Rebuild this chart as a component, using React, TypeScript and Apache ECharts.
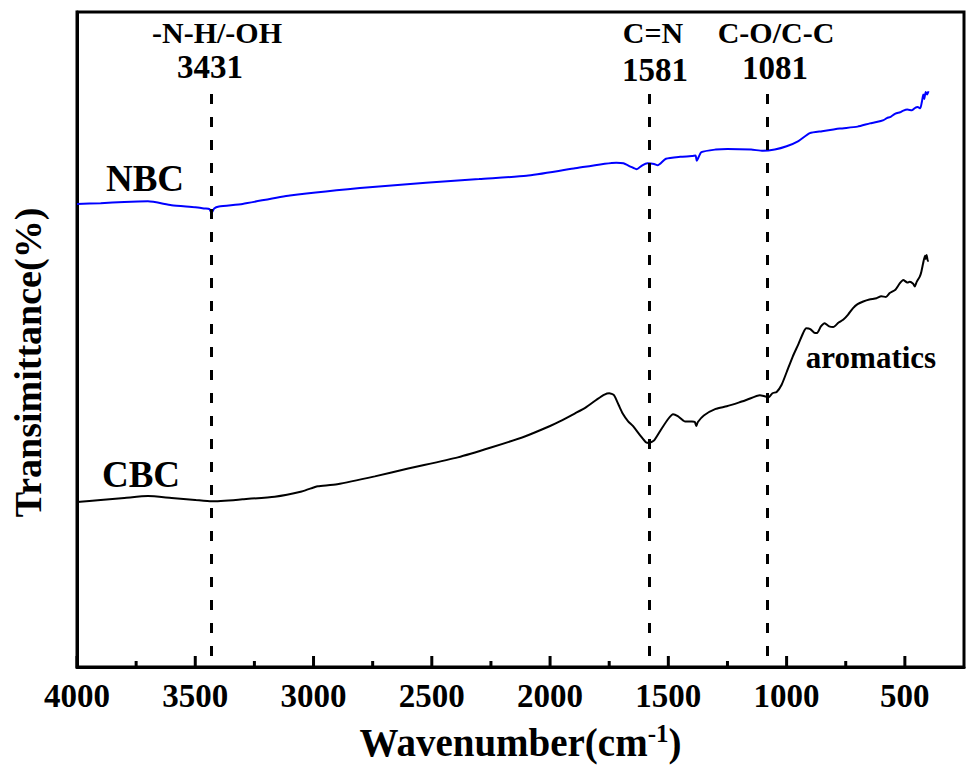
import React, { useEffect, useRef } from 'react';
import * as echarts from 'echarts';

// NBC spectrum (blue): wavenumber (cm-1) and transmittance (arb. %)
const nbcWavenumber = [4000, 3900, 3800, 3700, 3600, 3500, 3460, 3440, 3431, 3420, 3400, 3300, 3100, 2750, 2300, 2100, 1900, 1720, 1690, 1660, 1634, 1610, 1588, 1560, 1545, 1510, 1450, 1400, 1385, 1380, 1375, 1360, 1300, 1250, 1150, 1100, 1050, 1000, 950, 902, 850, 775, 700, 648, 620, 590, 576, 560, 540, 520, 509, 490, 470, 455, 446, 435, 428, 422, 418, 412, 406, 400];
const nbcTransmittance = [70.7, 70.8, 71.0, 71.1, 70.5, 70.2, 70.0, 69.9, 69.3, 70.0, 70.3, 70.7, 72.0, 73.3, 74.5, 75.0, 76.1, 77.0, 76.9, 76.4, 76.0, 76.6, 76.9, 76.8, 76.6, 77.6, 77.9, 78.0, 78.1, 77.3, 77.6, 78.6, 79.0, 79.1, 79.0, 78.8, 79.0, 79.5, 80.3, 81.5, 81.8, 82.2, 82.5, 83.0, 83.2, 83.5, 83.8, 84.0, 84.5, 84.7, 84.9, 85.1, 85.0, 85.4, 85.5, 85.3, 86.3, 87.4, 86.7, 87.8, 87.4, 87.9];

// CBC spectrum (black)
const cbcWavenumber = [4000, 3900, 3800, 3700, 3600, 3500, 3431, 3300, 3164, 3050, 3000, 2982, 2900, 2741, 2600, 2390, 2250, 2107, 2000, 1959, 1896, 1850, 1800, 1770, 1750, 1730, 1710, 1693, 1670, 1650, 1620, 1595, 1581, 1560, 1530, 1500, 1480, 1460, 1430, 1400, 1388, 1382, 1375, 1350, 1300, 1253, 1200, 1168, 1113, 1090, 1075, 1060, 1042, 1021, 1000, 974, 950, 930, 917, 900, 880, 871, 855, 839, 820, 803, 780, 761, 740, 719, 700, 676, 650, 620, 600, 580, 564, 540, 521, 507, 490, 479, 465, 458, 450, 437, 430, 423, 415, 412, 408, 403, 400];
const cbcTransmittance = [25.2, 25.5, 25.8, 26.1, 25.8, 25.5, 25.3, 25.6, 26.0, 26.8, 27.4, 27.6, 27.9, 29.1, 30.3, 32.0, 33.5, 35.2, 36.8, 37.5, 38.7, 39.6, 40.9, 41.6, 41.8, 41.5, 40.0, 38.7, 37.5, 36.8, 35.4, 34.3, 34.2, 34.6, 36.3, 37.9, 38.6, 38.3, 37.5, 37.5, 37.4, 36.8, 37.4, 38.4, 39.4, 39.8, 40.4, 40.8, 41.5, 41.3, 41.2, 41.8, 42.0, 43.1, 45.0, 47.4, 49.3, 51.0, 51.7, 51.6, 51.0, 51.0, 52.0, 52.5, 52.0, 51.9, 52.6, 53.0, 53.8, 54.8, 55.4, 55.8, 56.1, 56.3, 56.6, 56.5, 57.1, 57.6, 58.6, 59.1, 58.7, 58.8, 58.5, 58.1, 58.8, 59.6, 60.4, 61.6, 62.8, 62.3, 62.9, 62.0, 62.1];

// Assigned bands
const peakWavenumbers = [3431, 1581, 1081];
const peakGroups = ['-N-H/-OH', 'C=N', 'C-O/C-C'];
const peakLineTop = 87.5;

// Axis range and ticks
const xMin = 250;
const xMax = 4000;
const majorTicks = [4000, 3500, 3000, 2500, 2000, 1500, 1000, 500];
const minorTicks = [3750, 3250, 2750, 2250, 1750, 1250, 750];

const FONT = "'Liberation Serif', 'Times New Roman', serif";

function zip(xs: number[], ys: number[]) {
  return xs.map((x, i) => [x, ys[i]]);
}

export default function App() {
  const ref = useRef<HTMLDivElement>(null);
  useEffect(() => {
    if (!ref.current) return;
    const chart = echarts.init(ref.current, undefined, { renderer: 'svg' });
    const txt = (text: string, x: number, y: number, size: number) => ({
      type: 'text',
      x,
      y,
      z: 100,
      style: {
        text,
        fill: '#000',
        font: `bold ${size}px ${FONT}`,
        fontSize: size,
        fontWeight: 'bold',
        fontFamily: FONT,
        align: 'center',
        verticalAlign: 'middle',
        textAlign: 'center',
        textVerticalAlign: 'middle',
      },
    });

    const option: any = {
      animation: false,
      backgroundColor: '#fff',
      grid: {
        left: 77,
        right: 3,
        top: 12,
        bottom: 103,
        show: true,
        borderColor: '#000',
        borderWidth: 3,
        backgroundColor: 'transparent',
        outerBoundsMode: 'none',
      },
      xAxis: {
        type: 'value',
        inverse: true,
        min: xMin,
        max: xMax,
        position: 'bottom',
        axisLine: { show: true, lineStyle: { color: '#000', width: 3 } },
        axisTick: { show: false },
        axisLabel: {
          show: true,
          customValues: majorTicks,
          formatter: (v: number) => String(v),
          color: '#000',
          fontSize: 33,
          fontWeight: 'bold',
          fontFamily: FONT,
          margin: 12,
        },
        splitLine: { show: false },
        name: '{a|Wavenumber(cm}{b|-1}{a|)}',
        nameLocation: 'middle',
        nameGap: 54,
        nameTextStyle: {
          rich: {
            a: { fontSize: 39, fontWeight: 'bold', fontFamily: FONT, color: '#000', lineHeight: 42 },
            b: { fontSize: 25, fontWeight: 'bold', fontFamily: FONT, color: '#000', verticalAlign: 'top', lineHeight: 42 },
          },
        },
      },
      yAxis: {
        type: 'value',
        min: 0,
        max: 100,
        axisLine: { show: true, lineStyle: { color: '#000', width: 3 } },
        axisTick: { show: false },
        axisLabel: { show: false },
        splitLine: { show: false },
        name: 'Transimittance(%)',
        nameLocation: 'middle',
        nameGap: 30,
        nameTextStyle: {
          fontSize: 38,
          fontWeight: 'bold',
          fontFamily: FONT,
          color: '#000',
          padding: [0, 46, 0, 0],
        },
      },
      series: [
        {
          name: 'NBC',
          type: 'line',
          data: zip(nbcWavenumber, nbcTransmittance),
          showSymbol: false,
          symbol: 'none',
          lineStyle: { color: '#0000ff', width: 2 },
          smooth: 0.2,
        },
        {
          name: 'CBC',
          type: 'line',
          data: zip(cbcWavenumber, cbcTransmittance),
          showSymbol: false,
          symbol: 'none',
          lineStyle: { color: '#000', width: 2 },
          smooth: 0.2,
          markLine: {
            silent: true,
            symbol: ['none', 'none'],
            label: { show: false },
            lineStyle: { color: '#000', width: 3, type: [10, 13] },
            data: peakWavenumbers.map((w) => [
              { coord: [w, peakLineTop] },
              { coord: [w, 0] },
            ]),
          },
        },
      ],
    };
    chart.setOption(option);

    // inward tick marks placed through the axis scales
    const yBase = chart.convertToPixel({ yAxisIndex: 0 }, 0) as number;
    const tickLine = (v: number, len: number) => {
      const x = chart.convertToPixel({ xAxisIndex: 0 }, v) as number;
      return {
        type: 'line',
        silent: true,
        z: 100,
        shape: { x1: x, y1: yBase, x2: x, y2: yBase - len },
        style: { stroke: '#000', lineWidth: 3 },
      };
    };

    const peakLabelPos = [
      { gx: 217, nx: 210, ny: 67 },
      { gx: 653, nx: 655, ny: 70 },
      { gx: 776, nx: 775, ny: 68 },
    ];
    const graphics: any[] = [];
    peakWavenumbers.forEach((w, i) => {
      graphics.push(txt(peakGroups[i], peakLabelPos[i].gx, 32, 30));
      graphics.push(txt(String(w), peakLabelPos[i].nx, peakLabelPos[i].ny, 33));
    });
    graphics.push(txt('NBC', 145, 178, 37));
    graphics.push(txt('CBC', 141, 474, 37));
    graphics.push(txt('aromatics', 871, 357, 31));
    majorTicks.forEach((v) => graphics.push(tickLine(v, 11)));
    minorTicks.forEach((v) => graphics.push(tickLine(v, 6)));

    chart.setOption({ graphic: graphics });
    return () => chart.dispose();
  }, []);
  return (
    <div
      ref={ref}
      style={{ position: 'absolute', left: 0, top: 0, width: 967, height: 770 }}
    />
  );
}
